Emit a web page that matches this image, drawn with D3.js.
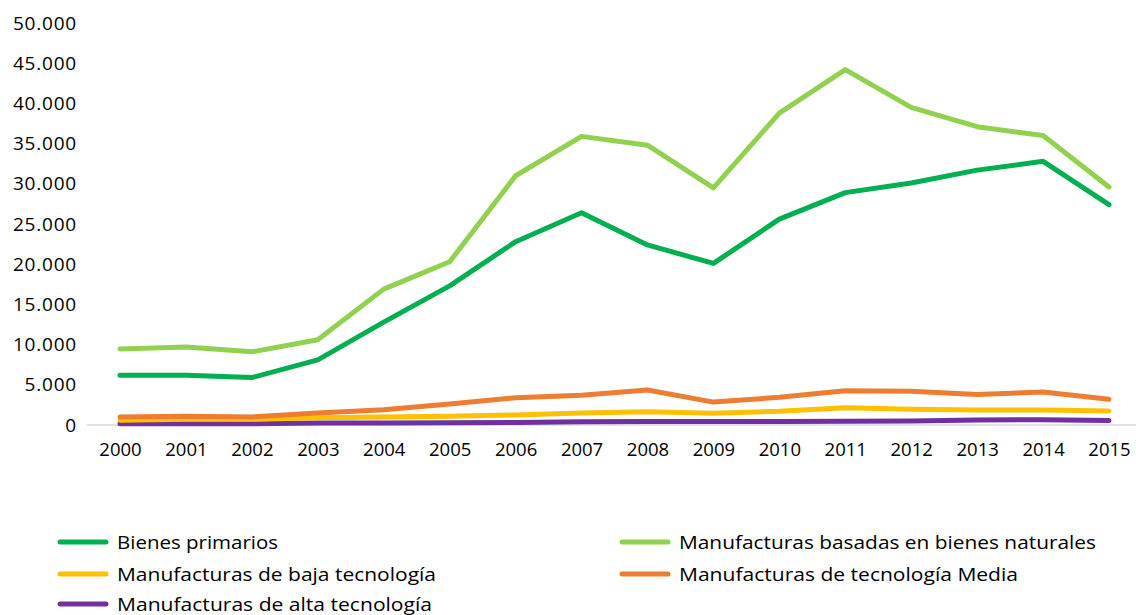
<!DOCTYPE html>
<html lang="es">
<head>
<meta charset="UTF-8" />
<script src="https://d3js.org/d3.v7.min.js"></script>
<style>
    body { margin: 0; background: #fff; }
    text { font-family: "Open Sans", "DejaVu Sans", sans-serif; fill: #000; }
    .axis .domain { stroke: #d9d9d9; stroke-width: 1.5; }
    .axis .tick line { display: none; }
</style>
</head>
<body>
<svg id="chart" width="1136" height="615"></svg>
<script>
    const years = ["2000","2001","2002","2003","2004","2005","2006","2007","2008","2009","2010","2011","2012","2013","2014","2015"];

    const bienesPrimarios = [6200, 6200, 5900, 8100, 12800, 17300, 22800, 26400, 22400, 20100, 25600, 28900, 30100, 31700, 32800, 27400];
    const basadasRecursos = [9450, 9700, 9100, 10600, 16900, 20300, 31000, 35900, 34800, 29500, 38800, 44200, 39500, 37100, 36000, 29600];
    const bajaTecnologia = [600, 700, 700, 900, 1000, 1100, 1250, 1500, 1650, 1450, 1700, 2150, 1950, 1870, 1870, 1750];
    const mediaTecnologia = [1000, 1100, 1000, 1500, 1900, 2600, 3400, 3700, 4350, 2850, 3450, 4250, 4200, 3800, 4100, 3200];
    const altaTecnologia = [150, 150, 150, 250, 250, 280, 320, 400, 450, 450, 450, 480, 500, 620, 650, 570];

    const yTicks = [0, 5000, 10000, 15000, 20000, 25000, 30000, 35000, 40000, 45000, 50000];

    const seriesNames = ["Bienes primarios", "Manufacturas basadas en bienes naturales", "Manufacturas de baja tecnología", "Manufacturas de tecnología Media", "Manufacturas de alta tecnología"];
    const seriesValues = [bienesPrimarios, basadasRecursos, bajaTecnologia, mediaTecnologia, altaTecnologia];
    const seriesColors = ["#00b050", "#92d050", "#ffc000", "#ed7d31", "#7030a0"];

    const svg = d3.select("svg#chart");

    const xScale = d3.scalePoint().domain(years).range([120, 1109]);
    const yScale = d3.scaleLinear().domain([0, 50000]).range([425, 23]);

    const fmt = d3.formatLocale({ decimal: ",", thousands: ".", grouping: [3], currency: ["", ""] }).format(",.0f");

    // y tick labels (no axis line)
    svg.append("g")
        .selectAll("text.ylab")
        .data(yTicks)
        .join("text")
        .attr("class", "ylab")
        .attr("x", 77)
        .attr("y", d => yScale(d))
        .attr("dy", "0.35em")
        .attr("text-anchor", "end")
        .style("font-size", "19px")
        .style("letter-spacing", "0.8px")
        .text(d => fmt(d));

    // x axis
    const xAxis = svg.append("g")
        .attr("class", "axis")
        .attr("transform", `translate(0,${yScale(0)})`)
        .call(d3.axisBottom(xScale).tickSizeOuter(0).tickPadding(12));
    xAxis.select(".domain").attr("d", "M87,0H1142");
    xAxis.selectAll("text").style("font-size", "18.5px").attr("fill", "#000");

    // lines
    const line = d3.line()
        .x((d, i) => xScale(years[i]))
        .y(d => yScale(d));

    const order = [4, 2, 3, 0, 1];
    svg.append("g")
        .selectAll("path.series")
        .data(order)
        .join("path")
        .attr("class", "series")
        .attr("fill", "none")
        .attr("stroke", i => seriesColors[i])
        .attr("stroke-width", 5)
        .attr("stroke-linecap", "round")
        .attr("stroke-linejoin", "round")
        .attr("d", i => line(seriesValues[i]));

    // legend
    const legendPos = [[58, 542], [620, 542], [58, 574], [620, 574], [58, 604]];
    const legendWidths = [161, 417, 319, 339, 315];
    const legend = svg.append("g")
        .selectAll("g.item")
        .data(seriesNames)
        .join("g")
        .attr("class", "item")
        .attr("transform", (d, i) => `translate(${legendPos[i][0]},${legendPos[i][1]})`);

    legend.append("line")
        .attr("x1", 2).attr("x2", 48)
        .attr("stroke", (d, i) => seriesColors[i])
        .attr("stroke-width", 5)
        .attr("stroke-linecap", "round");

    legend.append("text")
        .attr("x", 59)
        .attr("dy", "0.35em")
        .style("font-size", "19px")
        .attr("textLength", (d, i) => legendWidths[i])
        .attr("lengthAdjust", "spacingAndGlyphs")
        .text(d => d);
</script>
</body>
</html>
